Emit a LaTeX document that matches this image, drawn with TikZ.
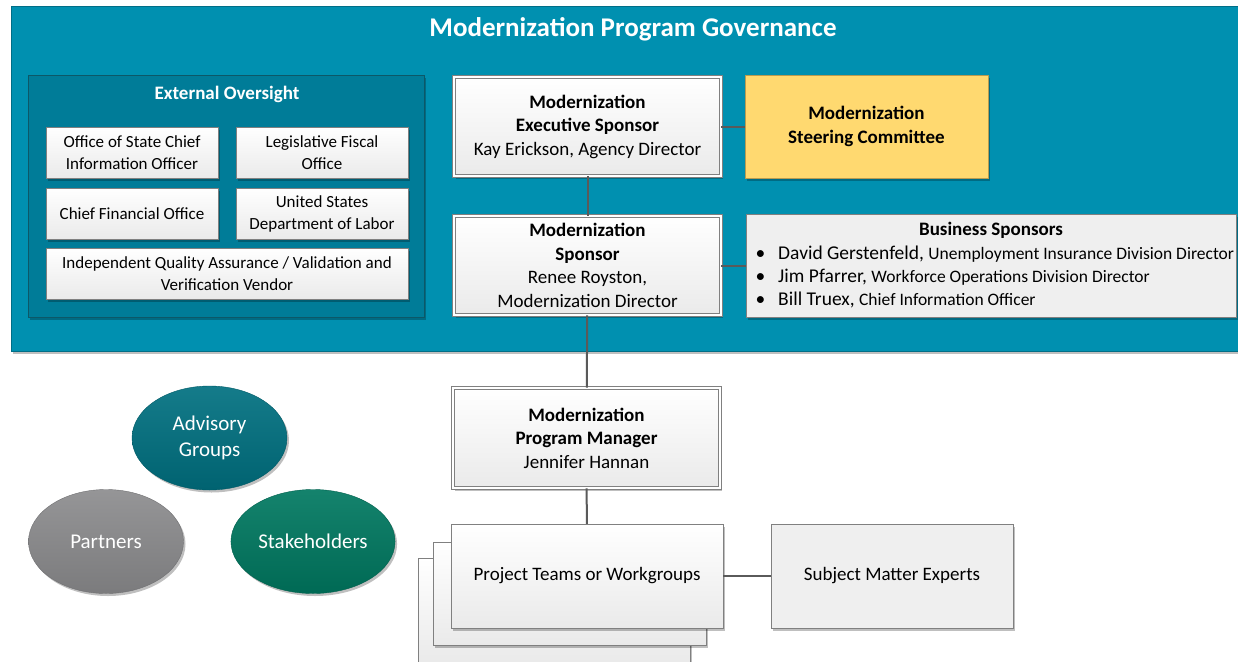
\documentclass[tikz,border=0pt]{standalone}
\usepackage{fontspec}
\setmainfont{Carlito}
\usepackage{tikz}
\usetikzlibrary{shapes.geometric,shadows}
\usetikzlibrary{positioning}

\definecolor{govteal}{RGB}{0,144,176}
\definecolor{govline}{RGB}{0,110,135}
\definecolor{extteal}{RGB}{0,124,152}
\definecolor{extline}{RGB}{12,88,104}
\definecolor{boxline}{RGB}{128,128,128}
\definecolor{boxgray}{RGB}{234,234,234}
\definecolor{bizgray}{RGB}{239,239,239}
\definecolor{gold}{RGB}{255,217,112}
\definecolor{goldline}{RGB}{185,155,80}
\definecolor{linkgray}{RGB}{90,90,90}
\definecolor{advteal}{RGB}{0,112,128}
\definecolor{stakegreen}{RGB}{0,120,96}
\definecolor{partgray}{RGB}{140,140,142}

\newcommand{\fsz}[2]{\fontsize{#1}{#2}\selectfont}

\tikzset{
  dropshade/.style={drop shadow={shadow xshift=2pt,shadow yshift=-2.5pt,opacity=.25,fill=black}},
  orgbox/.style={draw=boxline,top color=white,bottom color=boxgray,minimum width=271pt,minimum height=103pt,align=center,font=\fsz{19}{23.5},dropshade},
  dblbox/.style={orgbox,line width=.8pt,double=white,double distance=2.4pt,minimum width=267pt,minimum height=99pt},
  extbox/.style={draw=boxline,top color=white,bottom color=boxgray,minimum width=172pt,minimum height=51pt,align=center,font=\fsz{17}{22},dropshade},
  flatbox/.style={draw=boxline,fill=bizgray,minimum height=103pt,align=center,font=\fsz{19}{23.5},dropshade},
  oval/.style={ellipse,draw=#1!80!black,top color=#1!92!white,bottom color=#1!88!black,minimum width=155pt,minimum height=104pt,align=center,text=white,font=\fsz{21}{26},dropshade},
  link/.style={draw=linkgray,line width=2pt}
}

\begin{document}
\begin{tikzpicture}[x=1pt,y=-1pt]
  \useasboundingbox (0,0) rectangle (1238,661);

  \draw[draw=govline,fill=govteal,dropshade] (11,6) rectangle (1260,351);
  \node[text=white,font=\fsz{27}{32}\bfseries] (govtitle) at (633,29) {Modernization Program Governance};

  % external oversight
  \draw[draw=extline,fill=extteal,dropshade] (28,75) rectangle (424,317);
  \node[text=white,font=\fsz{19}{23}\bfseries] (exttitle) at (227,94) {External Oversight};
  \node[extbox] (ocio) at (132,152.5) {Office of State Chief\\Information Officer};
  \node[extbox] (lfo) at (322,152.5) {Legislative Fiscal\\Office};
  \node[extbox] (cfo) at (132,213.5) {Chief Financial Office};
  \node[extbox] (usdol) at (322,213.5) {United States\\Department of Labor};
  \node[extbox,minimum width=362pt] (iqa) at (227,273.5) {Independent Quality Assurance / Validation and\\Verification Vendor};

  % sponsors
  \node[dblbox] (exec) at (587.5,126.5) {\textbf{Modernization}\\\textbf{Executive Sponsor}\\Kay Erickson, Agency Director};
  \node[flatbox,fill=gold,draw=goldline,minimum width=243pt] (steer) at (866.5,126.5) {\textbf{Modernization}\\\textbf{Steering Committee}};
  \node[dblbox] (spons) at (587.5,265.5) {\textbf{Modernization}\\\textbf{Sponsor}\\Renee Royston,\\Modernization Director};
  \node[flatbox,minimum width=490pt] (biz) at (991,265.5) {};
  \node[font=\fsz{19}{23}\bfseries] (bizhead) at (991,230) {Business Sponsors};
  \node[anchor=west,align=left,font=\fsz{19.5}{23}] (bizlist) at (752,276.5) {%
    \textbullet\hspace{13pt}David Gerstenfeld, {\fsz{17.5}{23}Unemployment Insurance Division Director}\\
    \textbullet\hspace{13pt}Jim Pfarrer, {\fsz{17.5}{23}Workforce Operations Division Director}\\
    \textbullet\hspace{13pt}Bill Truex, {\fsz{17.5}{23}Chief Information Officer}};

  % program
  \node[dblbox,minimum height=100pt] (pm) at (586.5,438) {\textbf{Modernization}\\\textbf{Program Manager}\\Jennifer Hannan};
  \node[orgbox,minimum width=272pt,minimum height=104pt] (proj3) at (554,610) {};
  \node[orgbox,minimum width=273pt] (proj2) at (569.5,593.5) {};
  \node[orgbox,minimum width=272pt,minimum height=104pt] (proj) at (587,576) {Project Teams or Workgroups};
  \node[flatbox,minimum width=242pt,minimum height=104pt] (sme) at (892,576) {Subject Matter Experts};

  \node[oval=advteal] (advisory) at (209.5,438) {Advisory\\Groups};
  \node[oval=partgray] (partners) at (106,541.5) {Partners};
  \node[oval=stakegreen] (stake) at (313,541.5) {Stakeholders};

  \draw[link] (exec) -- (steer);
  \draw[link] (exec) -- (spons);
  \draw[link] (spons) -- (biz.west |- spons);
  \draw[link] (spons) -- (pm);
  \draw[link] (pm) -- (proj);
  \draw[link] (proj) -- (sme);
\end{tikzpicture}
\end{document}
